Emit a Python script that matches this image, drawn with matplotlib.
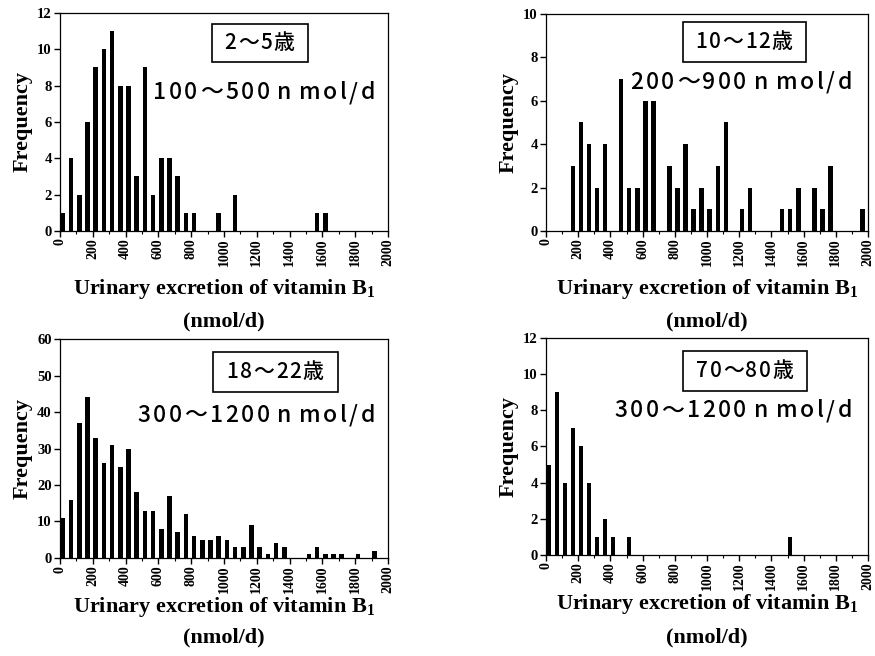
import numpy as np
import matplotlib.pyplot as plt
from matplotlib.ticker import MultipleLocator
from matplotlib.font_manager import FontProperties
from matplotlib.patches import Rectangle
from matplotlib.transforms import offset_copy

plt.rcParams['font.family'] = ['Liberation Serif', 'DejaVu Sans']
plt.rcParams['font.weight'] = 'bold'
plt.rcParams['mathtext.fontset'] = 'custom'
plt.rcParams['mathtext.rm'] = 'Liberation Serif:bold'
plt.rcParams['mathtext.it'] = 'Liberation Serif:bold'
plt.rcParams['mathtext.bf'] = 'Liberation Serif:bold'

# bin centres (nmol/d, 50-wide bins) and counts for each age group
x_2_5 = [25, 75, 125, 175, 225, 275, 325, 375, 425, 475, 525, 575, 625, 675,
         725, 775, 825, 975, 1075, 1575, 1625]
n_2_5 = [1, 4, 2, 6, 9, 10, 11, 8, 8, 3, 9, 2, 4, 4, 3, 1, 1, 1, 2, 1, 1]

x_10_12 = [175, 225, 275, 325, 375, 475, 525, 575, 625, 675, 775, 825, 875,
           925, 975, 1025, 1075, 1125, 1225, 1275, 1475, 1525, 1575, 1675,
           1725, 1775, 1975]
n_10_12 = [3, 5, 4, 2, 4, 7, 2, 2, 6, 6, 3, 2, 4, 1, 2, 1, 3, 5, 1, 2, 1, 1,
           2, 2, 1, 3, 1]

x_18_22 = [25, 75, 125, 175, 225, 275, 325, 375, 425, 475, 525, 575, 625, 675,
           725, 775, 825, 875, 925, 975, 1025, 1075, 1125, 1175, 1225, 1275,
           1325, 1375, 1525, 1575, 1625, 1675, 1725, 1825, 1925]
n_18_22 = [11, 16, 37, 44, 33, 26, 31, 25, 30, 18, 13, 13, 8, 17, 7, 12, 6, 5,
           5, 6, 5, 3, 3, 9, 3, 1, 4, 3, 1, 3, 1, 1, 1, 1, 2]

x_70_80 = [25, 75, 125, 175, 225, 275, 325, 375, 425, 525, 1525]
n_70_80 = [5, 9, 4, 7, 6, 4, 1, 2, 1, 1, 1]

ages = ['2〜5歳', '10〜12歳', '18〜22歳', '70〜80歳']
ranges = ['100〜500 n mol/d', '200〜900 n mol/d',
          '300〜1200 n mol/d', '300〜1200 n mol/d']
ymax = [12, 10, 60, 12]
ystep = [2, 2, 10, 2]

panels = [(x_2_5, n_2_5), (x_10_12, n_10_12), (x_18_22, n_18_22), (x_70_80, n_70_80)]
rects = [[0.0686, 0.6479, 0.3749, 0.3323],
         [0.624, 0.6479, 0.368, 0.3308],
         [0.0686, 0.1494, 0.3749, 0.3338],
         [0.624, 0.1540, 0.368, 0.3308]]
# label-box layout in axes fractions: (x0, x1, y0, y1), text centre (x, y)
boxes = [(0.463, 0.756, 0.775, 0.95), (0.425, 0.807, 0.779, 0.963),
         (0.466, 0.848, 0.758, 0.941), (0.425, 0.811, 0.756, 0.940)]
box_txt = [(0.608, 0.862), (0.615, 0.871), (0.655, 0.849), (0.617, 0.848)]
range_pos = [(0.976, 0.635), (0.966, 0.685), (0.976, 0.653), (0.966, 0.664)]
xlab_y = [(-0.266, -0.417), (-0.266, -0.417), (-0.224, -0.361), (-0.226, -0.378)]

fig = plt.figure(figsize=(8.75, 6.56), dpi=100)
renderer = fig.canvas.get_renderer()
jp = ['Noto Sans CJK JP', 'DejaVu Sans']


def spaced_text(ax, x, y, s, size, gap, ha, space=0.22):
    # draw s char by char with extra letter spacing (gap in px)
    fp = FontProperties(family=jp, size=size, weight='medium')
    widths = []
    for ch in s:
        if ch == ' ':
            widths.append(size * space)
        else:
            w = renderer.get_text_width_height_descent(ch, fp, ismath=False)[0]
            widths.append(w * 72 / fig.dpi)
    g = gap * 72 / fig.dpi
    total = sum(widths) + g * (len(s) - 1)
    start = {'right': -total, 'center': -total / 2, 'left': 0}[ha]
    pos = start
    for ch, w in zip(s, widths):
        if ch != ' ':
            tr = offset_copy(ax.transAxes, fig=fig, x=pos, y=0, units='points')
            ax.text(x, y, ch, transform=tr, ha='left', va='center',
                    fontproperties=fp, zorder=4)
        pos += w + (g if ch != ' ' else 0)


for i, ((xs, ns), r) in enumerate(zip(panels, rects)):
    ax = fig.add_axes(r)
    ax.bar(np.array(xs) - 8, ns, width=28, color='black')
    ax.set_xlim(0, 2000)
    ax.set_ylim(0, ymax[i])
    ax.xaxis.set_major_locator(MultipleLocator(200))
    ax.xaxis.set_minor_locator(MultipleLocator(100))
    ax.yaxis.set_major_locator(MultipleLocator(ystep[i]))
    ax.tick_params(axis='y', which='major', direction='out', length=4,
                   width=1, labelsize=10.5, pad=2)
    ax.tick_params(axis='x', which='major', direction='out', length=4,
                   width=1, labelsize=10, pad=1.5)
    ax.tick_params(axis='x', which='minor', direction='out', length=2, width=0.8)
    for lab in ax.get_xticklabels():
        lab.set_rotation(90)
        lab.set_fontweight('bold')
    for lab in ax.get_yticklabels():
        lab.set_fontweight('bold')
    for sp in ax.spines.values():
        sp.set_linewidth(0.9)
    ax.set_ylabel('Frequency', fontsize=16, fontweight='bold', labelpad=3)
    ax.text(0.5, xlab_y[i][0], 'Urinary excretion of vitamin B$_1$',
            transform=ax.transAxes, ha='center', va='center', fontsize=16,
            fontweight='bold')
    ax.text(0.5, xlab_y[i][1], '(nmol/d)', transform=ax.transAxes,
            ha='center', va='center', fontsize=16, fontweight='bold')
    x0, x1, y0, y1 = boxes[i]
    ax.add_patch(Rectangle((x0, y0), x1 - x0, y1 - y0, transform=ax.transAxes,
                           fc='white', ec='black', lw=1.2, zorder=3))
    spaced_text(ax, box_txt[i][0], box_txt[i][1], ages[i], 15, 1.5, 'center')
    spaced_text(ax, range_pos[i][0], range_pos[i][1], ranges[i], 16.5, 2.5, 'right')

fig.savefig('out.png', dpi=100)
